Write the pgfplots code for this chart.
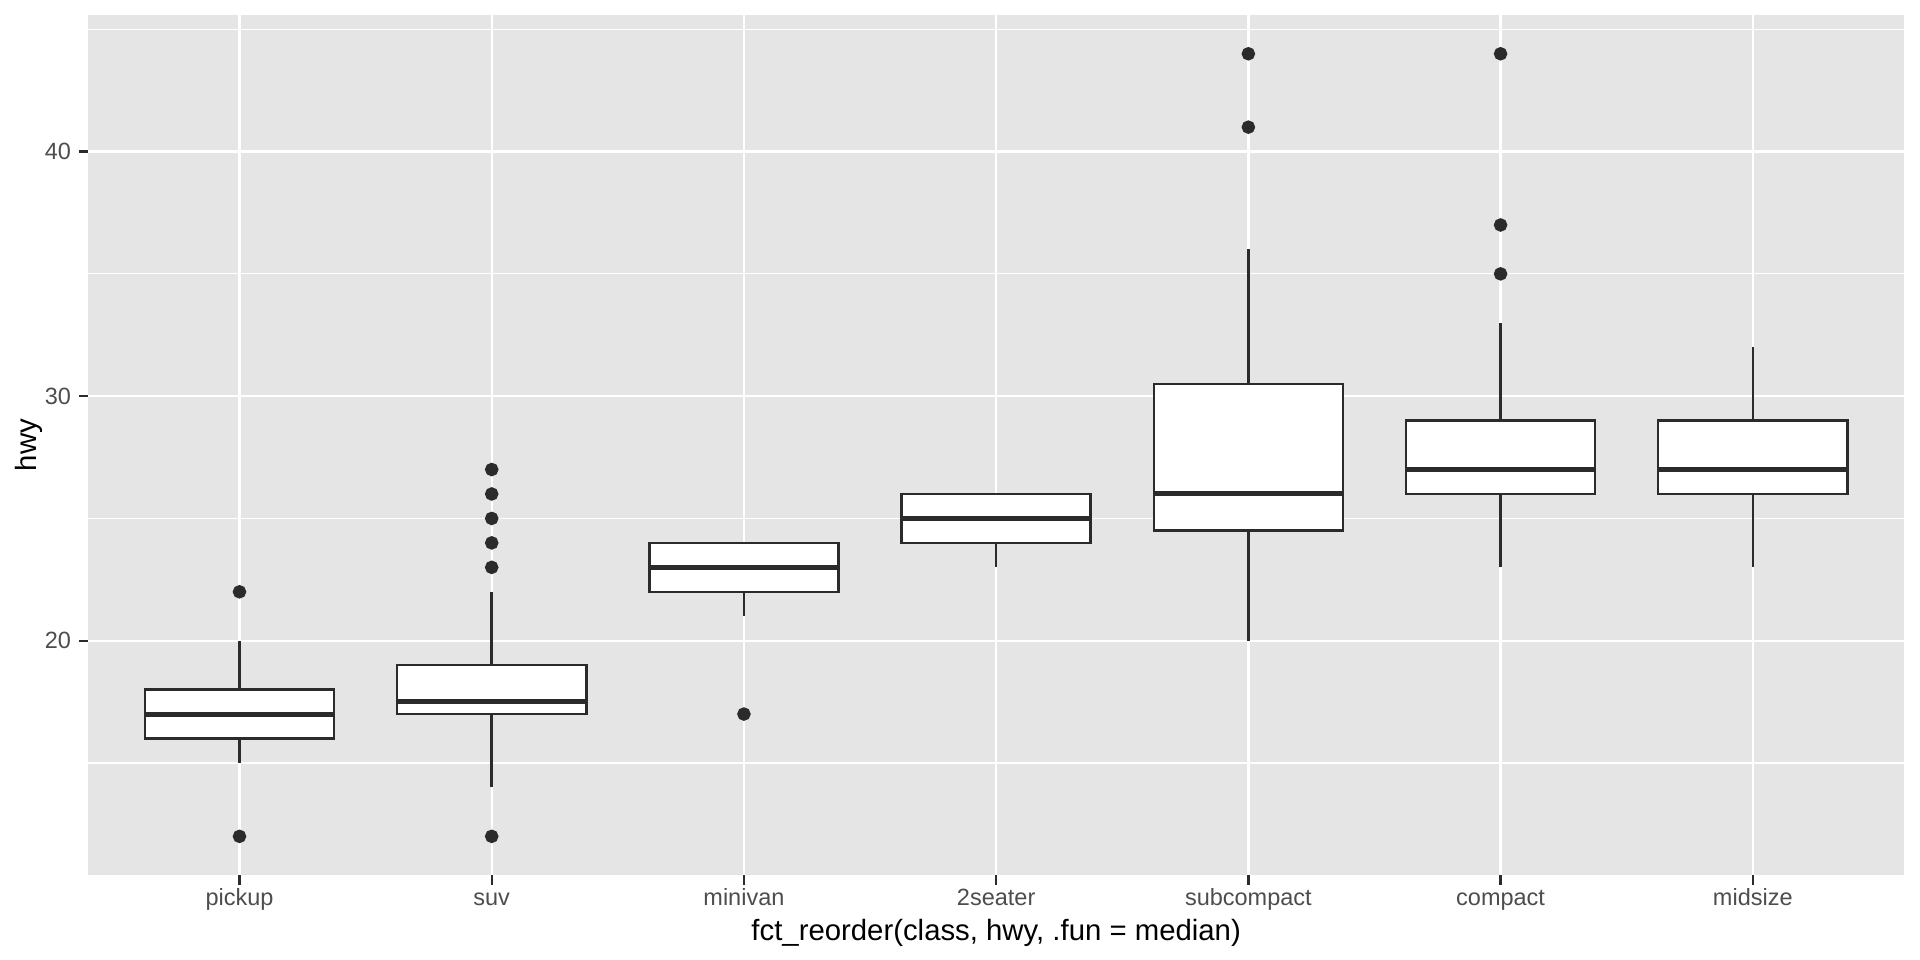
\documentclass[border=0pt]{standalone}
\usepackage{pgfplots}
\pgfplotsset{compat=1.18}
\usepgfplotslibrary{statistics}
\usepackage{fontspec}
\setmainfont{Liberation Sans}
\definecolor{panelbg}{HTML}{E5E5E5}
\definecolor{boxline}{HTML}{2B2B2B}
\definecolor{ticktxt}{HTML}{4D4D4D}

% ggplot-like boxplot style
\pgfplotsset{
  ggbox/.style={
    solid, draw=boxline, fill=white, line width=0.75pt,
    mark=*, mark size=1.65pt,
    mark options={fill=boxline, draw=none},
    boxplot/draw direction=y,
    boxplot/box extend=0.75,
    boxplot/whisker extend=0,
    boxplot/every median/.style={line width=1.5pt},
  },
}

\begin{document}
\begin{tikzpicture}
\useasboundingbox (0,0) rectangle (576pt,288pt);
\begin{axis}[
  at={(26.45pt,25.35pt)}, anchor=south west,
  scale only axis, width=544.8pt, height=258.25pt,
  xmin=0.4, xmax=7.6, ymin=10.4, ymax=45.6,
  xtick={1,2,3,4,5,6,7},
  xticklabels={pickup,suv,minivan,2seater,subcompact,compact,midsize},
  ytick={20,30,40}, minor ytick={15,25,35,45},
  grid=both,
  major grid style={white, line width=0.7pt},
  minor grid style={white, line width=0.35pt},
  axis background/.style={fill=panelbg},
  axis line style={draw=none},
  tick align=outside, major tick length=2.75pt, minor tick length=0pt,
  tick style={color=boxline, line width=0.7pt},
  xtick pos=bottom, ytick pos=left,
  /pgf/number format/assume math mode=true,
  tick label style={font=\fontsize{7.05}{8.5}\selectfont, text=ticktxt},
  xticklabel style={anchor=base, inner sep=0pt, yshift=-6.4pt},
  yticklabel style={inner sep=0pt, xshift=-2.2pt},
  xlabel={fct\_reorder(class, hwy, .fun = median)},
  ylabel={hwy},
  label style={font=\fontsize{8.8}{10.5}\selectfont},
  xlabel style={at={(axis description cs:0.5,0)}, anchor=base, yshift=-19.5pt},
  ylabel style={at={([xshift=-15.5pt]axis description cs:0,0.5)}, anchor=base},
]
% pickup
\addplot+[ggbox, boxplot prepared={draw position=1, lower whisker=15, lower quartile=16, median=17, upper quartile=18, upper whisker=20}]
  table[row sep=\\, y index=0] {data\\ 12\\ 22\\};
% suv
\addplot+[ggbox, boxplot prepared={draw position=2, lower whisker=14, lower quartile=17, median=17.5, upper quartile=19, upper whisker=22}]
  table[row sep=\\, y index=0] {data\\ 12\\ 23\\ 24\\ 25\\ 26\\ 27\\};
% minivan
\addplot+[ggbox, boxplot prepared={draw position=3, lower whisker=21, lower quartile=22, median=23, upper quartile=24, upper whisker=24}]
  table[row sep=\\, y index=0] {data\\ 17\\};
% 2seater
\addplot+[ggbox, boxplot prepared={draw position=4, lower whisker=23, lower quartile=24, median=25, upper quartile=26, upper whisker=26}]
  coordinates {};
% subcompact
\addplot+[ggbox, boxplot prepared={draw position=5, lower whisker=20, lower quartile=24.5, median=26, upper quartile=30.5, upper whisker=36}]
  table[row sep=\\, y index=0] {data\\ 41\\ 44\\};
% compact
\addplot+[ggbox, boxplot prepared={draw position=6, lower whisker=23, lower quartile=26, median=27, upper quartile=29, upper whisker=33}]
  table[row sep=\\, y index=0] {data\\ 35\\ 37\\ 44\\};
% midsize
\addplot+[ggbox, boxplot prepared={draw position=7, lower whisker=23, lower quartile=26, median=27, upper quartile=29, upper whisker=32}]
  coordinates {};
\end{axis}
\end{tikzpicture}
\end{document}
